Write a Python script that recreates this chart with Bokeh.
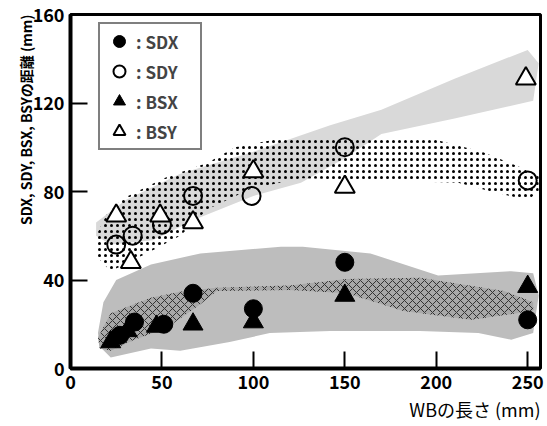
from bokeh.plotting import figure
from bokeh.models import Legend, LegendItem, Title
from bokeh.embed import file_html
from bokeh.resources import INLINE

# ---- data ----
sdx_x = [27, 35, 51, 67, 100, 150, 250]
sdx_y = [15, 21, 20, 34, 27, 48, 22]
sdy_x = [25, 34, 50, 67, 99, 150, 250]
sdy_y = [56, 60, 65, 78, 78, 100, 85]
bsx_x = [22, 31, 47, 67, 100, 150, 250]
bsx_y = [12, 17, 19, 20, 21, 33, 37]
bsy_x = [25, 33, 49, 67, 100, 150, 249]
bsy_y = [69, 48, 69, 66, 89, 82, 131]

x_ticks = [0, 50, 100, 150, 200, 250]
y_ticks = [0, 40, 80, 120, 160]

# shaded bands (outline in data units)
band_bsy_x = [14, 22, 45, 70, 100, 126, 150, 170, 210, 253, 256, 250, 210, 170, 142, 100, 60, 30, 14]
band_bsy_y = [60, 56, 58, 68, 78, 84, 95, 106, 113, 121, 138, 144, 131, 117, 110, 98, 88, 76, 66]

band_sdy_x = [14, 20, 29, 51, 75, 90, 115, 197, 225, 246, 256, 256, 250, 230, 212, 126, 98, 75, 60, 44, 22, 15]
band_sdy_y = [60, 70, 77, 86, 93, 100, 104, 104, 98, 91, 87, 80, 76, 80, 84, 86, 81, 72, 60, 53, 44, 50]

band_sdx_x = [15, 18, 25, 44, 71, 115, 127, 164, 201, 241, 253, 256, 253, 241, 223, 191, 142, 109, 87, 60, 44, 22, 16]
band_sdx_y = [16, 30, 40, 47, 52, 55, 55, 52, 42, 44, 43, 33, 16, 13, 16, 17, 17, 16, 12, 8, 9, 5, 10]

band_bsx_x = [16, 15, 22, 44, 62, 80, 120, 151, 191, 237, 253, 253, 219, 182, 151, 120, 80, 71, 53, 34, 22]
band_bsx_y = [9, 14, 25, 32, 35, 36.5, 37.5, 40.5, 41, 35, 30, 26, 22, 26, 34, 35.5, 35, 29, 18.5, 12.7, 8]

FONT = "'Liberation Sans Narrow', 'Noto Sans CJK JP', sans-serif"
CJK = "'Noto Sans CJK JP', sans-serif"

p = figure(width=547, height=426, x_range=(0, 257), y_range=(0, 160),
           output_backend="svg", toolbar_location=None,
           min_border_left=70, min_border_right=7, min_border_top=14, min_border_bottom=58)
p.background_fill_color = "white"
p.border_fill_color = "white"
p.xgrid.visible = False
p.ygrid.visible = False
p.outline_line_color = "black"
p.outline_line_width = 3

for ax in (p.xaxis, p.yaxis):
    ax.axis_line_width = 4
    ax.axis_line_color = "black"
    ax.major_tick_in = 17
    ax.major_tick_out = 0
    ax.major_tick_line_width = 2
    ax.minor_tick_line_color = None
    ax.major_label_text_font = FONT
    ax.major_label_text_font_size = "18px"
    ax.major_label_text_font_style = "bold"
    ax.major_label_text_color = "black"
    ax.major_label_standoff = 6
p.xaxis.ticker = x_ticks
p.yaxis.ticker = y_ticks

# bands
p.patch(band_bsy_x, band_bsy_y, fill_color="#d9d9d9", line_color=None)
p.patch(band_sdy_x, band_sdy_y, fill_color=None, line_color=None,
        hatch_pattern="dot", hatch_color="black", hatch_scale=6, hatch_weight=2.2)
p.patch(band_sdx_x, band_sdx_y, fill_color="#bdbdbd", line_color=None)
p.patch(band_bsx_x, band_bsx_y, fill_color="#a8a8a8", line_color=None,
        hatch_pattern="diagonal_cross", hatch_color="#333333", hatch_scale=8, hatch_weight=1)

# markers
r_sdx = p.scatter(sdx_x, sdx_y, marker="circle", size=18, fill_color="black", line_color="black")
r_sdy = p.scatter(sdy_x, sdy_y, marker="circle", size=18, fill_color=None, line_color="black", line_width=2)
r_bsx = p.scatter(bsx_x, bsx_y, marker="triangle", size=20, fill_color="black", line_color="black")
r_bsy = p.scatter(bsy_x, bsy_y, marker="triangle", size=20, fill_color="white", line_color="black", line_width=2)

legend = Legend(items=[
    LegendItem(label=": SDX", renderers=[r_sdx]),
    LegendItem(label=": SDY", renderers=[r_sdy]),
    LegendItem(label=": BSX", renderers=[r_bsx]),
    LegendItem(label=": BSY", renderers=[r_bsy]),
], location=(28, 218), glyph_width=34, glyph_height=30, spacing=0, padding=2,
    label_standoff=0, label_width=62, label_height=20, label_text_font=FONT, label_text_font_size="17px",
    label_text_font_style="bold", border_line_color="black", border_line_width=2,
    background_fill_color="white", background_fill_alpha=1, margin=0)
p.add_layout(legend)

p.add_layout(Title(text="SDX, SDY, BSX, BSYの距離 (mm)", align="right", offset=0, standoff=-13,
                   text_font=FONT, text_font_size="14px", text_font_style="bold",
                   text_color="black"), "left")
p.add_layout(Title(text="WBの長さ (mm)", align="right", offset=0, standoff=4,
                   text_font=CJK, text_font_size="18px", text_font_style="normal",
                   text_color="black"), "below")

open("out.html", "w").write(file_html(p, INLINE))
